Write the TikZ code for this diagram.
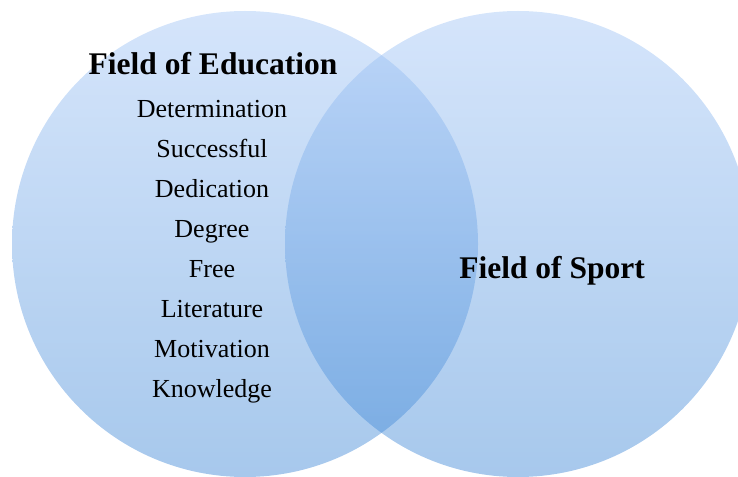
\documentclass[tikz,border=0pt]{standalone}
\usepackage{fontspec}
\setmainfont{Liberation Serif}
\definecolor{venntop}{RGB}{162,197,246}
\definecolor{vennbottom}{RGB}{59,133,213}

\begin{document}
\begin{tikzpicture}[x=1pt,y=-1pt]
    \useasboundingbox (0,0) rectangle (738,476);
    \clip (0,0) rectangle (738,476);

    % Field of Education
    \shade[top color=venntop, bottom color=vennbottom, fill opacity=0.45] (245,244) circle (233);
    % Field of Sport
    \shade[top color=venntop, bottom color=vennbottom, fill opacity=0.45] (518,244) circle (233);

    \node[anchor=base, font=\bfseries\fontsize{31.5}{31.5}\selectfont] (edutitle) at (213,75) {Field of Education};
    \node[anchor=base, align=center, font=\fontsize{26}{40}\selectfont] (eduwords) at (212,397) {
        Determination\\
        Successful\\
        Dedication\\
        Degree\\
        Free\\
        Literature\\
        Motivation\\
        Knowledge
    };

    \node[anchor=base, font=\bfseries\fontsize{31.5}{31.5}\selectfont] (sporttitle) at (552,278) {Field of Sport};
\end{tikzpicture}
\end{document}
